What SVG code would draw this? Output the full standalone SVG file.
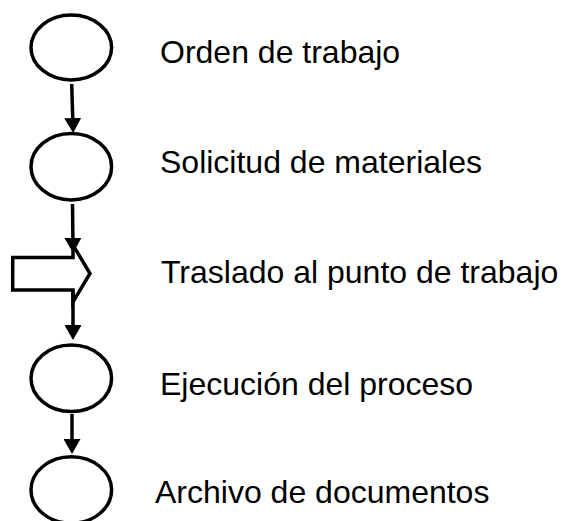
<svg xmlns="http://www.w3.org/2000/svg" width="564" height="521" viewBox="0 0 564 521">
<style>
.n{fill:#fff;stroke:#000;stroke-width:3.5}
.c{stroke:#000;stroke-width:3.5;fill:none}
.t{font-family:"Liberation Sans",Arial,sans-serif;font-size:32px;fill:#000}
</style>
<defs>
<marker id="ah" viewBox="0 0 15 17" refX="9" refY="8.5" markerWidth="15" markerHeight="17" markerUnits="userSpaceOnUse" orient="auto">
<path d="M0,0 L15,8.5 L0,17 z" fill="#000"/>
</marker>
</defs>
<rect width="564" height="521" fill="#fff"/>
<g id="n1"><ellipse class="n" cx="71.3" cy="47.5" rx="40.3" ry="32.5"/><text class="t" x="160" y="63">Orden de trabajo</text></g>
<g id="n2"><ellipse class="n" cx="71.3" cy="166.7" rx="40.3" ry="33.2"/><text class="t" x="160" y="173">Solicitud de materiales</text></g>
<g id="n3"><polygon class="n" points="12.7,257.5 73,257.5 73,245 90,273.5 73,302 73,290 12.7,290"/><text class="t" x="161" y="283">Traslado al punto de trabajo</text></g>
<g id="n4"><ellipse class="n" cx="71.3" cy="378.3" rx="40.3" ry="33.2"/><text class="t" x="160" y="395">Ejecución del proceso</text></g>
<g id="n5"><ellipse class="n" cx="71.3" cy="490" rx="40.3" ry="33.2"/><text class="t" x="155" y="503">Archivo de documentos</text></g>
<g id="connectors">
<line class="c" x1="71.7" y1="84" x2="73" y2="127" marker-end="url(#ah)"/>
<line class="c" x1="72.5" y1="204" x2="73" y2="247" marker-end="url(#ah)"/>
<line class="c" x1="73" y1="291" x2="73" y2="334" marker-end="url(#ah)"/>
<line class="c" x1="72" y1="414" x2="72" y2="448" marker-end="url(#ah)"/>
</g>
</svg>
